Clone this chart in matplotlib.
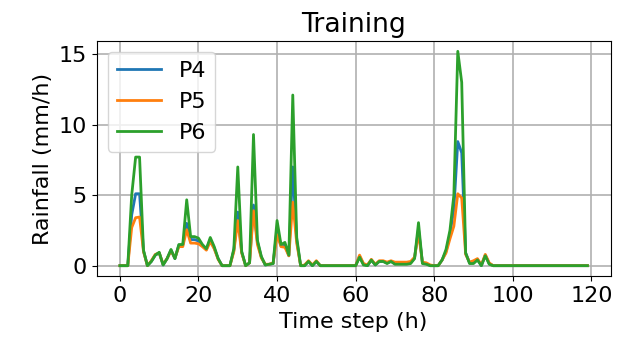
import matplotlib
matplotlib.use("Agg")
import matplotlib.pyplot as plt

# hourly rainfall, time steps 0..119
time_steps = list(range(120))

p4 = ([0, 0, 0, 3.6, 5.1, 5.1, 1.05, 0, 0.3, 0.75,
       0.9, 0.05, 0.5, 1.1, 0.5, 1.45, 1.45, 3.0, 1.85, 1.85,
       1.75, 1.4, 1.15, 1.85, 1.25, 0.5, 0, 0, 0, 1.1,
       3.8, 0.95, 0, 0.2, 4.3, 1.7, 0.6, 0.05, 0.1, 0.15,
       2.6, 1.4, 1.5, 0.7, 7.0, 1.8, 0, 0, 0.3, 0,
       0.3, 0, 0, 0, 0, 0, 0, 0, 0, 0,
       0, 0.65, 0.1, 0, 0.4, 0.05, 0.3, 0.3, 0.2, 0.3,
       0.15, 0.15, 0.15, 0.15, 0.2, 0.55, 2.6, 0.2, 0.15, 0,
       0, 0, 0.4, 1.0, 2.2, 4.0, 8.8, 8.0, 0.9, 0.2,
       0.25, 0.45, 0, 0.75, 0.15]
      + [0] * 25)

p5 = ([0, 0, 0, 2.7, 3.4, 3.45, 1.0, 0, 0.35, 0.8,
       0.9, 0.1, 0.5, 1.05, 0.55, 1.35, 1.35, 2.55, 1.6, 1.6,
       1.55, 1.35, 1.1, 1.7, 1.2, 0.45, 0, 0, 0, 1.0,
       3.2, 0.9, 0, 0.2, 3.9, 1.5, 0.55, 0.1, 0.1, 0.2,
       2.2, 1.35, 1.3, 0.7, 4.5, 1.6, 0, 0.05, 0.35, 0.05,
       0.35, 0, 0, 0, 0, 0, 0, 0, 0, 0,
       0, 0.75, 0.15, 0.05, 0.45, 0.1, 0.35, 0.35, 0.25, 0.35,
       0.25, 0.25, 0.25, 0.25, 0.3, 0.6, 2.3, 0.25, 0.2, 0.05,
       0, 0, 0.4, 0.9, 1.9, 2.8, 5.1, 4.8, 0.8, 0.25,
       0.35, 0.5, 0.05, 0.8, 0.2]
      + [0] * 25)

p6 = ([0, 0, 0, 5.0, 7.7, 7.7, 1.1, 0, 0.3, 0.75,
       0.95, 0.05, 0.5, 1.15, 0.5, 1.5, 1.5, 4.67, 2.06, 2.06,
       1.95, 1.5, 1.2, 2.0, 1.35, 0.5, 0, 0, 0, 1.2,
       7.0, 1.0, 0, 0.2, 9.3, 1.8, 0.65, 0.05, 0.1, 0.15,
       3.2, 1.5, 1.65, 0.75, 12.1, 2.0, 0, 0, 0.3, 0,
       0.3, 0, 0, 0, 0, 0, 0, 0, 0, 0,
       0, 0.6, 0.05, 0, 0.4, 0.05, 0.3, 0.3, 0.15, 0.3,
       0.1, 0.1, 0.1, 0.1, 0.15, 0.5, 3.05, 0.15, 0.1, 0,
       0, 0, 0.4, 1.15, 2.5, 5.0, 15.2, 13.0, 0.9, 0.15,
       0.15, 0.4, 0, 0.7, 0.1]
      + [0] * 25)

series = [("P4", p4), ("P5", p5), ("P6", p6)]

plt.rcParams["font.size"] = 16

fig = plt.figure(figsize=(6.31, 3.47), dpi=100)
ax = fig.add_axes([0.153, 0.2035, 0.815, 0.6795])

for name, vals in series:
    ax.plot(time_steps, vals, lw=2, label=name)

ax.set_title("Training")
ax.set_xlabel("Time step (h)")
ax.set_ylabel("Rainfall (mm/h)")
ax.set_xticks([0, 20, 40, 60, 80, 100, 120])
ax.set_yticks([0, 5, 10, 15])
ax.grid(True, linewidth=1.2)
ax.legend(loc="upper left")

fig.savefig("out.png", dpi=100)
